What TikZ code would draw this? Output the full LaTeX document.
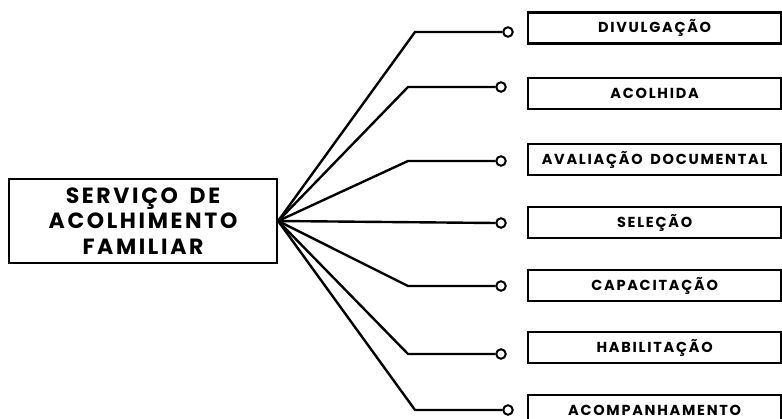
\documentclass[tikz,border=0pt]{standalone}
\usepackage{fontspec}
\newfontfamily\popb{Poppins}[LetterSpace=12, WordSpace=1.6]
\usetikzlibrary{positioning}
\begin{document}
\begin{tikzpicture}[x=1pt,y=-1pt,
  ln/.style={line width=2.4pt, black},
  stagebox/.style={draw, line width=2.2pt, minimum width=253pt, minimum height=31pt, anchor=west, inner sep=0pt,
     font=\popb\bfseries\fontsize{14.5}{16}\selectfont},
  mainbox/.style={draw, line width=2.2pt, minimum width=268pt, minimum height=84pt, inner sep=0pt, align=center,
     font=\popb\bfseries\fontsize{22}{25.5}\selectfont},
  term/.style={circle, draw, line width=2pt, fill=white, minimum size=9.5pt, inner sep=0pt}]
\useasboundingbox (0,0) rectangle (782,419);
\node[mainbox] (main) at (143,221) {SERVIÇO DE\\ACOLHIMENTO\\FAMILIAR};
\coordinate (hub) at (main.east);
% boxes
\node[stagebox] (s1) at (527,28) {DIVULGAÇÃO};
\node[stagebox] (s2) at (527,93.5) {ACOLHIDA};
\node[stagebox] (s3) at (527,159.5) {AVALIAÇÃO DOCUMENTAL};
\node[stagebox] (s4) at (527,222.5) {SELEÇÃO};
\node[stagebox] (s5) at (527,285.5) {CAPACITAÇÃO};
\node[stagebox] (s6) at (527,347.5) {HABILITAÇÃO};
\node[stagebox] (s7) at (527,410.5) {ACOMPANHAMENTO};
% bends
\coordinate (b1) at (415,32);
\coordinate (b2) at (408,87);
\coordinate (b3) at (408,161);
\coordinate (b5) at (408,286);
\coordinate (b6) at (408,354);
\coordinate (b7) at (415,410);
% terminals
\node[term] (t1) at (508,32) {};
\node[term] (t2) at (501,87) {};
\node[term] (t3) at (501,161) {};
\node[term] (t4) at (501,223) {};
\node[term] (t5) at (501,286) {};
\node[term] (t6) at (501,354) {};
\node[term] (t7) at (508,410) {};
\draw[ln] (hub) -- (b1) -- (t1.west);
\draw[ln] (hub) -- (b2) -- (t2.west);
\draw[ln] (hub) -- (b3) -- (t3.west);
\draw[ln] (hub) -- (t4.west);
\draw[ln] (hub) -- (b5) -- (t5.west);
\draw[ln] (hub) -- (b6) -- (t6.west);
\draw[ln] (hub) -- (b7) -- (t7.west);
\end{tikzpicture}
\end{document}
